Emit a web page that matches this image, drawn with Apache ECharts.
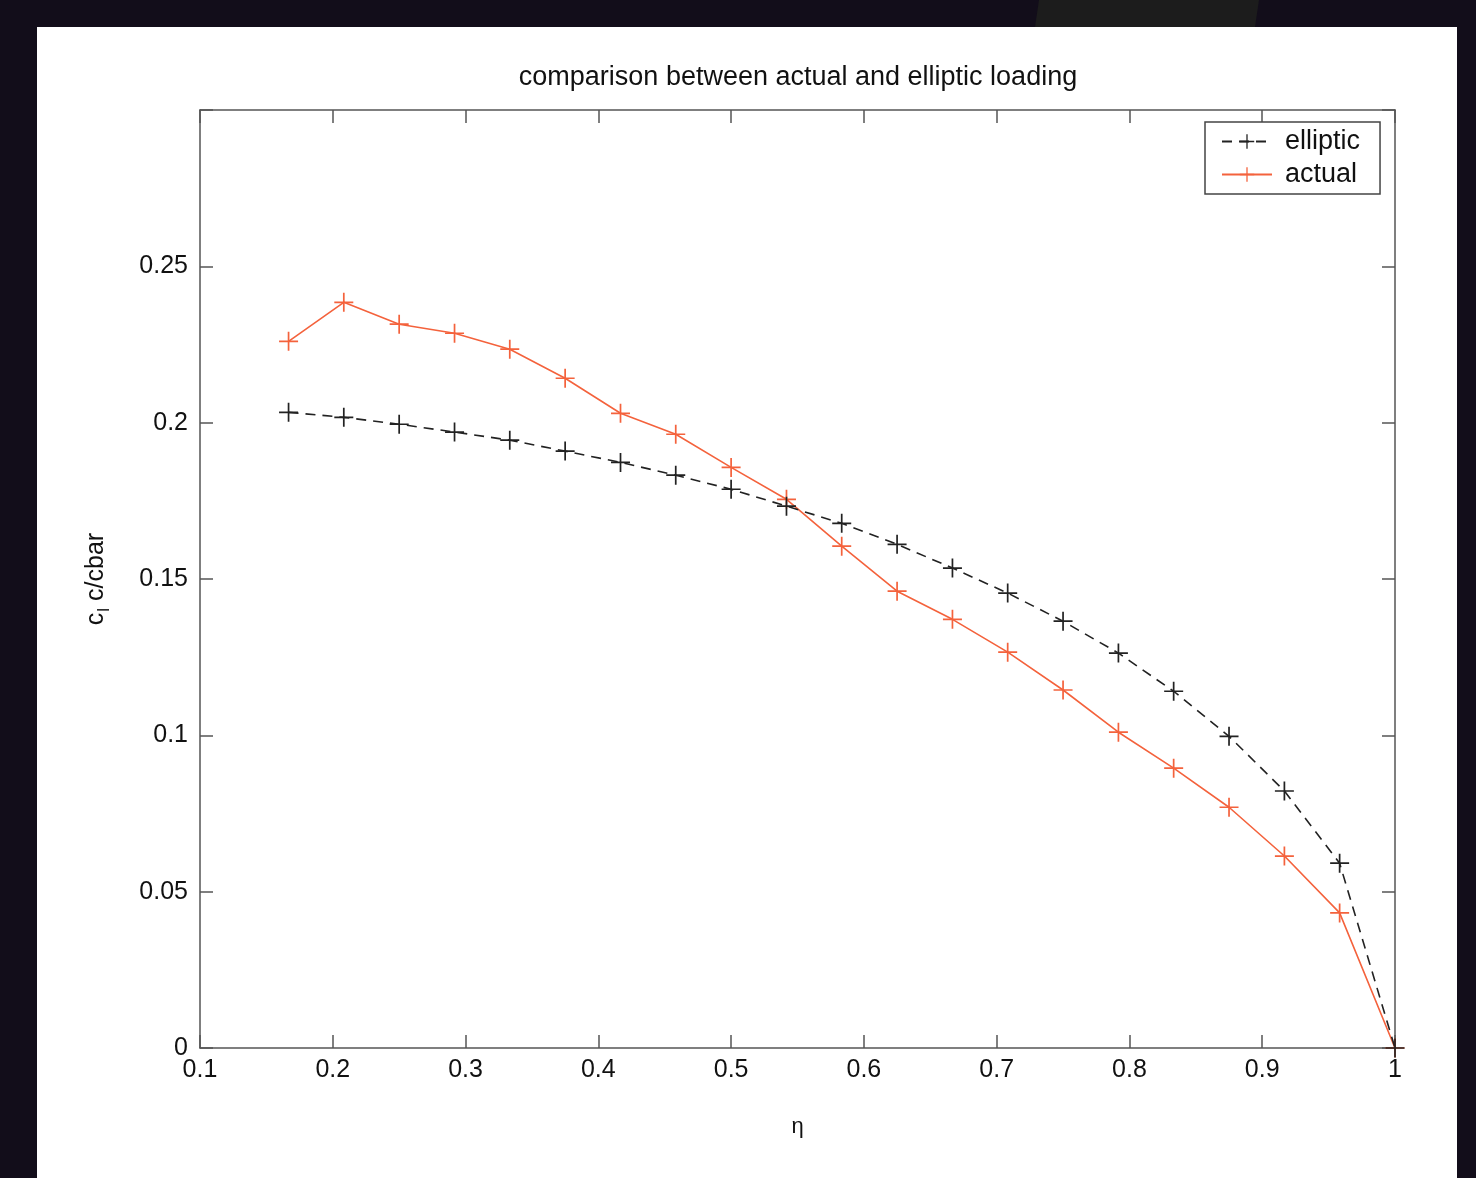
<!DOCTYPE html>
<html>
<head>
<meta charset="utf-8">
<script src="https://cdn.jsdelivr.net/npm/echarts@6/dist/echarts.min.js"></script>
<style>
  html, body { margin: 0; padding: 0; background: #120d1a; }
  #panel { position: absolute; left: 37px; top: 27px; width: 1420px; height: 1151px; background: #fff; }
  #chart { position: absolute; left: 0; top: 0; width: 1476px; height: 1178px; }
</style>
</head>
<body>
<div id="panel"></div>
<div id="chart"></div>
<script>
// spanwise stations (eta) and loading values
const eta = [0.1667, 0.2083, 0.25, 0.2917, 0.3333, 0.375, 0.4167, 0.4583, 0.5, 0.5417,
  0.5833, 0.625, 0.6667, 0.7083, 0.75, 0.7917, 0.8333, 0.875, 0.9167, 0.9583, 1.0]
const elliptic = [0.2033, 0.2017, 0.1995, 0.197, 0.1944, 0.1909, 0.1873, 0.1832, 0.1787, 0.1733,
  0.1678, 0.1611, 0.1535, 0.1455, 0.1365, 0.1263, 0.1141, 0.0997, 0.0822, 0.0591, 0]
const actual = [0.226, 0.2385, 0.2315, 0.2286, 0.2235, 0.2142, 0.203, 0.1963, 0.1857, 0.1755,
  0.1605, 0.1461, 0.1371, 0.1266, 0.1145, 0.101, 0.0895, 0.077, 0.0614, 0.0432, 0]

const FONT = 'Liberation Sans, Arial, sans-serif'
const AXIS_COLOR = '#555'
const TEXT_COLOR = '#111'
const ELLIPTIC_COLOR = '#222'
const ACTUAL_COLOR = '#f4623c'
// plus marker (MATLAB '+')
const PLUS = 'path://M9.1,0H10.9V9.1H20V10.9H10.9V20H9.1V10.9H0V9.1H9.1Z'

const chart = echarts.init(document.getElementById('chart'), null, { renderer: 'canvas' })

// shared look of the four box edges (ticks point inwards like MATLAB)
const boxAxis = {
  axisLine: { show: true, onZero: false, lineStyle: { color: AXIS_COLOR, width: 1.5 } },
  axisTick: { show: true, inside: true, length: 13, lineStyle: { color: AXIS_COLOR, width: 1.5 } },
  splitLine: { show: false },
}

const option = {
  animation: false,
  backgroundColor: 'transparent',
  graphic: [{
    type: 'polygon',
    shape: { points: [[1039, 0], [1259, 0], [1255, 27], [1035, 27]] },
    style: { fill: '#1c1c1c' },
    silent: true,
  }],
  title: {
    text: 'comparison between actual and elliptic loading',
    left: 793, top: 59, textAlign: 'center',
    textStyle: { fontFamily: FONT, fontSize: 27, fontWeight: 'normal', color: TEXT_COLOR },
  },
  legend: {
    orient: 'vertical',
    left: 1205, top: 122,
    padding: [6, 20, 6, 16],
    itemGap: 6,
    itemWidth: 50, itemHeight: 18,
    borderColor: '#444', borderWidth: 1.5,
    backgroundColor: '#fff',
    textStyle: { fontFamily: FONT, fontSize: 27, color: TEXT_COLOR, padding: [0, 0, 0, 8] },
    data: ['elliptic', 'actual'],
  },
  grid: { left: 200, top: 110, width: 1195, height: 938 },
  xAxis: [
    {
      type: 'value', min: 0.1, max: 1, interval: 0.1, position: 'bottom',
      ...boxAxis,
      axisLabel: { fontFamily: FONT, fontSize: 25, color: TEXT_COLOR, margin: 10,
        formatter: (v) => String(Math.round(v * 10) / 10) },
      name: 'η', nameLocation: 'middle', nameGap: 68,
      nameTextStyle: { fontFamily: FONT, fontSize: 22, color: TEXT_COLOR },
    },
    {
      type: 'value', min: 0.1, max: 1, interval: 0.1, position: 'top',
      ...boxAxis, axisLabel: { show: false },
    },
  ],
  yAxis: [
    {
      type: 'value', min: 0, max: 0.3, interval: 0.05, position: 'left',
      ...boxAxis,
      axisLabel: { fontFamily: FONT, fontSize: 25, color: TEXT_COLOR, margin: 12,
        formatter: (v) => v > 0.29 ? '' : String(Math.round(v * 100) / 100) },
      name: '{a|c}{sub|l}{a| c/cbar}', nameLocation: 'middle', nameGap: 87, nameRotate: 90,
      nameTextStyle: {
        fontFamily: FONT, color: TEXT_COLOR,
        rich: {
          a: { fontFamily: FONT, fontSize: 25, color: TEXT_COLOR },
          sub: { fontFamily: FONT, fontSize: 17, color: TEXT_COLOR, padding: [16, 0, 0, 1] },
        },
      },
    },
    {
      type: 'value', min: 0, max: 0.3, interval: 0.05, position: 'right',
      ...boxAxis, axisLabel: { show: false },
    },
  ],
  series: [
    {
      name: 'elliptic',
      type: 'line',
      data: eta.map((x, i) => [x, elliptic[i]]),
      lineStyle: { color: ELLIPTIC_COLOR, width: 1.6, type: [10, 7] },
      itemStyle: { color: ELLIPTIC_COLOR },
      symbol: PLUS, symbolSize: 19, showAllSymbol: true,
      z: 3,
    },
    {
      name: 'actual',
      type: 'line',
      data: eta.map((x, i) => [x, actual[i]]),
      lineStyle: { color: ACTUAL_COLOR, width: 1.6 },
      itemStyle: { color: ACTUAL_COLOR },
      symbol: PLUS, symbolSize: 19, showAllSymbol: true,
      z: 2,
    },
  ],
}

chart.setOption(option)
</script>
</body>
</html>
